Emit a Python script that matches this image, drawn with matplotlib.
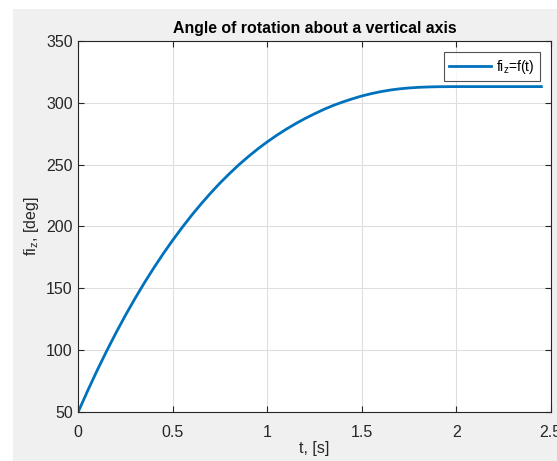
import matplotlib
matplotlib.use("Agg")
import matplotlib.pyplot as plt
from matplotlib.patches import Rectangle

# Data
t_values = [0.0, 0.05, 0.10, 0.15, 0.20, 0.25, 0.30, 0.35, 0.40, 0.45, 0.50,
            0.55, 0.60, 0.65, 0.70, 0.75, 0.80, 0.85, 0.90, 0.95, 1.00,
            1.05, 1.10, 1.15, 1.20, 1.25, 1.30, 1.35, 1.40, 1.45, 1.50,
            1.55, 1.60, 1.65, 1.70, 1.75, 1.80, 1.85, 1.90, 2.00, 2.20, 2.45]
fi_values = [50.0, 67.1, 83.5, 99.1, 114.0, 128.2, 141.6, 154.4, 166.5, 178.0, 188.9,
             199.2, 209.0, 218.2, 226.9, 235.1, 242.7, 249.9, 256.5, 262.7, 268.4,
             273.7, 278.6, 283.1, 287.3, 291.1, 294.7, 297.9, 300.7, 303.2, 305.5,
             307.4, 309.0, 310.3, 311.3, 312.0, 312.5, 312.8, 313.0, 313.1, 313.1, 313.1]
x_ticks = [0, 0.5, 1, 1.5, 2, 2.5]
x_tick_labels = ["0", "0.5", "1", "1.5", "2", "2.5"]
y_ticks = [50, 100, 150, 200, 250, 300, 350]

plt.rcParams['font.family'] = ['Liberation Sans', 'DejaVu Sans']
plt.rcParams['mathtext.fontset'] = 'custom'
plt.rcParams['mathtext.rm'] = 'Liberation Sans'
plt.rcParams['mathtext.it'] = 'Liberation Sans'

W, H = 557, 461
fig = plt.figure(figsize=(W / 100, H / 100), dpi=100, facecolor='white')
# grey figure panel (MATLAB style) with white strip at left/top
fig.patches.append(Rectangle((13 / W, 0), 1, (H - 9) / H, transform=fig.transFigure,
                             facecolor='#f0f0f0', edgecolor='none', zorder=-10))

left, right, top, bottom = 78.3, 550.8, 41.0, 411.7
ax = fig.add_axes([left / W, (H - bottom) / H, (right - left) / W, (bottom - top) / H])
ax.set_facecolor('white')

line_color = '#0072BD'
ax.plot(t_values, fi_values, color=line_color, linewidth=2.0, label=r'fi$_{z}$=f(t)')

ax.set_xlim(0, 2.5)
ax.set_ylim(50, 350)
ax.set_xticks(x_ticks)
ax.set_xticklabels(x_tick_labels)
ax.set_yticks(y_ticks)

ax.grid(True, color='#dedede', linewidth=0.8)
ax.set_axisbelow(True)
ax.tick_params(direction='in', length=4, width=0.8, colors='#262626',
               labelsize=11.5, top=True, right=True, pad=4)
ax.tick_params(axis='x', pad=9.5)
for s in ax.spines.values():
    s.set_color('#262626')
    s.set_linewidth(0.8)

ax.set_title('Angle of rotation about a vertical axis', fontsize=11.4, fontweight='bold',
             color='black', pad=6)
ax.set_xlabel('t, [s]', fontsize=11.5, color='#262626', labelpad=1)
ax.set_ylabel(r'fi$_{z}$, [deg]', fontsize=11.5, color='#262626', labelpad=4)

leg = ax.legend(loc='upper right', fontsize=10, frameon=True, fancybox=False,
                edgecolor='#262626', handlelength=3.0, borderaxespad=0.8,
                borderpad=0.4, handletextpad=0.35)
leg.get_frame().set_linewidth(0.8)

fig.savefig('out.png', dpi=100, facecolor=fig.get_facecolor())
